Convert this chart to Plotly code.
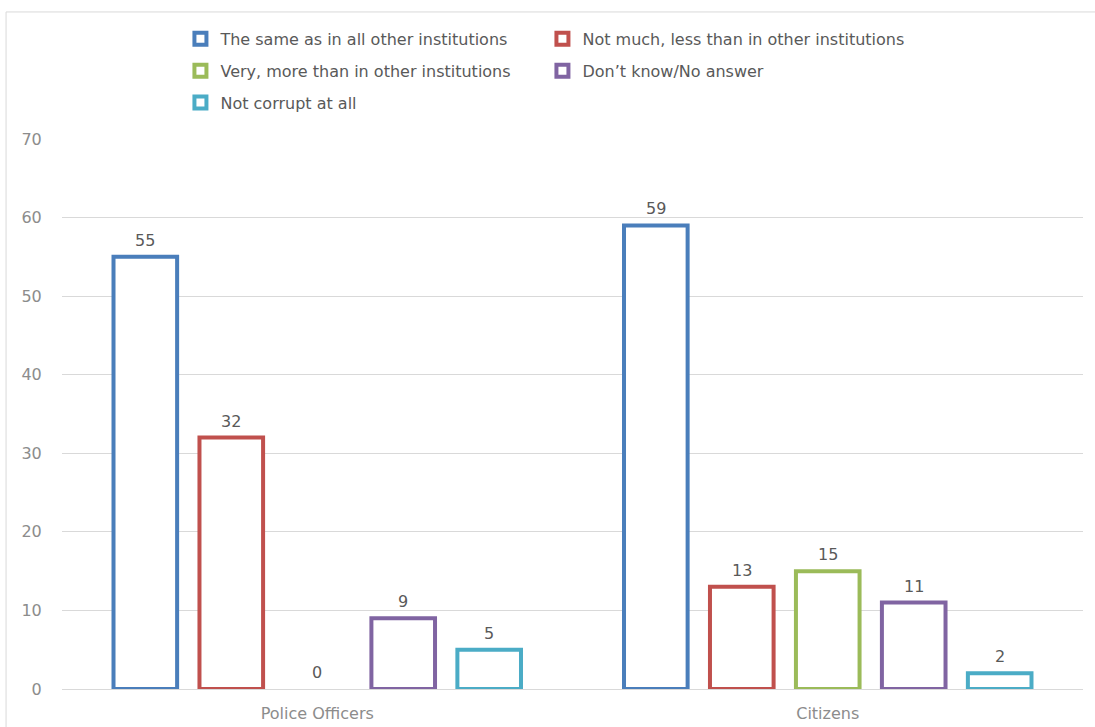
import plotly.graph_objects as go

# Survey answers: how corrupt is the police?
groups = ["Police Officers", "Citizens"]
answers = [
    "The same as in all other institutions",
    "Not much, less than in other institutions",
    "Very, more than in other institutions",
    "Don’t know/No answer",
    "Not corrupt at all",
]
police_officers = [55, 32, 0, 9, 5]
citizens = [59, 13, 15, 11, 2]
colors = ["#4A7EBB", "#C0504D", "#9BBB59", "#8064A2", "#4BACC6"]

# each answer goes into one of three legend rows
legend_rows = ["legend", "legend", "legend2", "legend2", "legend3"]

FONT = "DejaVu Sans"
TEXT_GREY = "#595959"
AXIS_GREY = "#8C8C8C"
BARGAP = 0.158

fig = go.Figure()
n = len(answers)
for i, name in enumerate(answers):
    vals = [police_officers[i], citizens[i]]
    fig.add_trace(go.Bar(
        x=groups,
        # an empty bar is left out so no outline shows on the baseline
        y=[v if v else None for v in vals],
        name=name,
        marker=dict(color="white", line=dict(color=colors[i], width=4)),
        legend=legend_rows[i],
        hoverinfo="skip",
    ))

# value labels above each bar
slot = (1 - BARGAP) / n
for i in range(n):
    for g, vals in enumerate([police_officers, citizens]):
        xpos = g - (1 - BARGAP) / 2 + slot * (i + 0.5)
        fig.add_annotation(
            x=xpos, y=vals[i], text=str(vals[i]), showarrow=False,
            yanchor="bottom", yshift=5,
            font=dict(family=FONT, size=16, color=TEXT_GREY),
        )

legend_common = dict(
    orientation="h", xanchor="left", yanchor="middle",
    font=dict(family=FONT, size=16, color=TEXT_GREY),
    bgcolor="rgba(0,0,0,0)", entrywidth=317, entrywidthmode="pixels",
    itemclick=False, itemdoubleclick=False,
)

fig.update_layout(
    width=1095, height=727,
    margin=dict(l=62, r=12, t=139, b=38),
    paper_bgcolor="white", plot_bgcolor="white",
    barmode="group", bargap=BARGAP, bargroupgap=0.26,
    font=dict(family=FONT, color=TEXT_GREY),
    legend=dict(x=0.116, y=1.182, **legend_common),
    legend2=dict(x=0.116, y=1.124, **legend_common),
    legend3=dict(x=0.116, y=1.066, **legend_common),
    xaxis=dict(
        range=[-0.5, 1.5], showgrid=False, showline=False, zeroline=False,
        automargin=False,
        tickfont=dict(family=FONT, size=16, color=AXIS_GREY),
        ticks="outside", ticklen=10, tickcolor="rgba(0,0,0,0)",
    ),
    yaxis=dict(
        range=[0, 70], dtick=10, showgrid=True, gridcolor="#D9D9D9", gridwidth=1,
        zeroline=True, zerolinecolor="#D9D9D9", zerolinewidth=1, showline=False,
        automargin=False,
        tickfont=dict(family=FONT, size=16, color=AXIS_GREY),
        ticks="outside", ticklen=16, tickcolor="rgba(0,0,0,0)",
    ),
)

# light chart frame around the whole figure
fig.add_shape(
    type="rect", xref="paper", yref="paper",
    x0=-0.0548, x1=1.05, y0=-0.1, y1=1.231,
    line=dict(color="#D9D9D9", width=1), fillcolor="rgba(0,0,0,0)", layer="below",
)

fig.write_html("out.html")
